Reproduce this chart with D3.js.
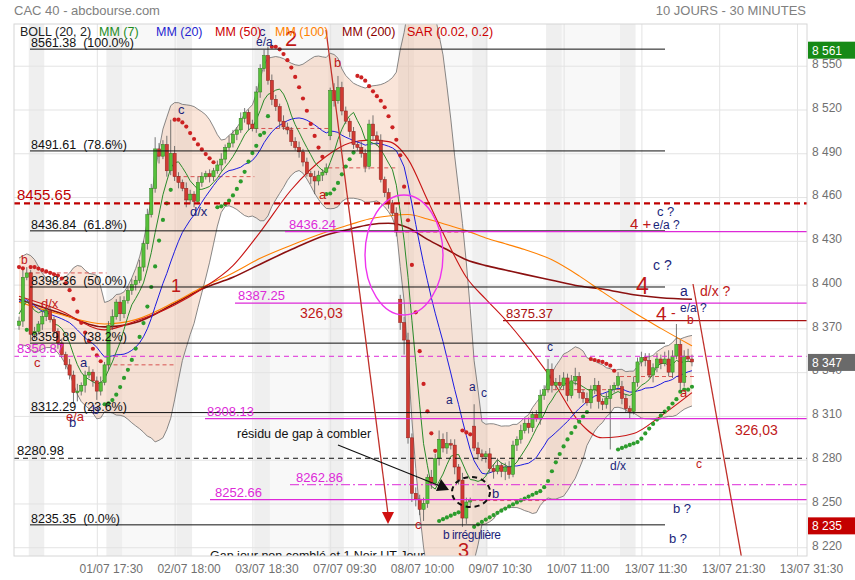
<!DOCTYPE html>
<html>
<head>
<meta charset="utf-8">
<script src="https://cdn.jsdelivr.net/npm/d3@7"></script>
<style>
body { margin: 0; background: #fff; }
svg { display: block; font-family: "Liberation Sans", Arial, sans-serif; }
</style>
</head>
<body>
<svg id="chart" width="855" height="580"></svg>
<script>
// closes before the window, only needed to seed MM(7), MM(20) and the bands
var priorCloses = [8392, 8398, 8405, 8410, 8415, 8412, 8404, 8396, 8388, 8380,
                   8374, 8370, 8366, 8372, 8380, 8386, 8392, 8384, 8370];

// 30 minute closes
var closes = [
  8375, 8405, 8408, 8366, 8368, 8373, 8378, 8382, 8376, 8368,
  8360, 8352, 8345, 8338, 8326, 8327, 8331, 8338, 8340, 8334,
  8327, 8333, 8345, 8372, 8378, 8388, 8380, 8389, 8396, 8400,
  8403, 8412, 8428, 8448, 8466, 8493, 8488, 8496, 8478, 8490,
  8474, 8470, 8466, 8458, 8462, 8457, 8470, 8474, 8476, 8474,
  8478, 8482, 8486, 8494, 8497, 8503, 8506, 8514, 8518, 8510,
  8507, 8532, 8548, 8557, 8540, 8527, 8522, 8512, 8508, 8506,
  8498, 8494, 8491, 8484, 8476, 8474, 8471, 8475, 8477, 8480,
  8533, 8526, 8535, 8519, 8512, 8505, 8496, 8494, 8490, 8481,
  8510, 8502, 8499, 8472, 8463, 8456, 8449, 8436, 8374, 8362,
  8295, 8257, 8253, 8246, 8250, 8268, 8264, 8281, 8294, 8288,
  8291, 8290, 8275, 8266, 8240, 8251, 8252, 8288, 8284, 8282,
  8284, 8274, 8272, 8276, 8272, 8275, 8270, 8290, 8294, 8300,
  8305, 8302, 8311, 8308, 8324, 8328, 8342, 8331, 8333, 8331,
  8336, 8324, 8334, 8337, 8326, 8322, 8319, 8328, 8331, 8320,
  8318, 8322, 8328, 8331, 8337, 8322, 8315, 8313, 8333, 8347,
  8350, 8348, 8338, 8343, 8349, 8346, 8349, 8340, 8351, 8359,
  8333, 8351, 8349, 8347
];
var firstOpen = 8372;
// opening gaps [bar, open]
var gapOpens = [[80, 8502], [98, 8390], [117, 8303], [155, 8330]];

// wick lengths above / below the body, in points
var upWick = [
  3, 6, 4, 2, 3, 2, 4, 2, 3, 2,   2, 3, 2, 4, 3, 5, 2, 3, 4, 2,
  3, 4, 2, 3, 5, 2, 4, 3, 2, 4,   3, 5, 2, 4, 3, 8, 4, 3, 6, 23,
  5, 3, 2, 4, 3, 2, 4, 3, 2, 3,   2, 3, 4, 2, 5, 3, 2, 4, 3, 2,
  3, 4, 3, 4, 6, 4, 3, 2, 4, 3,   2, 3, 4, 2, 3, 2, 4, 3, 2, 3,
  2, 5, 8, 4, 3, 2, 3, 2, 4, 3,   3, 6, 3, 4, 2, 3, 2, 4, 3, 4,
  5, 3, 4, 3, 4, 2, 5, 3, 6, 4,   8, 3, 4, 2, 5, 3, 2, 15, 4, 3,
  2, 4, 3, 5, 2, 3, 4, 3, 2, 4,   3, 4, 2, 3, 4, 3, 7, 4, 3, 5,
  4, 3, 4, 6, 3, 2, 4, 3, 5, 3,   2, 4, 3, 2, 3, 4, 3, 2, 4, 3,
  4, 3, 5, 3, 4, 3, 5, 6, 4, 14,  3, 4, 5, 3
];
var downWick = [
  3, 4, 2, 5, 3, 2, 4, 3, 2, 3,   4, 2, 3, 3, 8, 6, 3, 5, 2, 4,
  6, 3, 2, 4, 3, 2, 5, 3, 2, 3,   4, 2, 3, 4, 2, 3, 5, 2, 4, 3,
  3, 4, 2, 5, 3, 4, 2, 3, 2, 4,   3, 2, 4, 3, 2, 3, 4, 2, 3, 4,
  2, 3, 4, 2, 3, 4, 3, 5, 2, 3,   3, 2, 4, 3, 2, 5, 9, 3, 4, 2,
  3, 4, 2, 3, 2, 4, 3, 2, 3, 4,   2, 3, 4, 2, 3, 4, 2, 3, 5, 10,
  4, 6, 5, 4, 8, 3, 4, 2, 5, 3,   4, 3, 5, 3, 6, 4, 3, 2, 4, 3,
  4, 3, 5, 2, 4, 6, 3, 2, 4, 3,   2, 4, 3, 2, 4, 3, 2, 5, 3, 2,
  3, 4, 2, 3, 4, 3, 2, 4, 3, 5,   4, 3, 35, 2, 3, 4, 3, 5, 2, 3,
  3, 4, 2, 5, 3, 4, 2, 3, 4, 2,   5, 3, 2, 3
];

// first bar of each session
var dayStarts = [3, 23, 41, 61, 80, 98, 117, 136, 155];
var shadedDays = [1, 3, 5, 7];

// long moving averages, read at these bars
var maIdx = [0, 10, 22, 30, 40, 47, 55, 62, 70, 79, 85, 90, 95, 100, 105, 110, 115, 120, 125, 130, 137, 144, 150, 158, 165, 173];
var mm50  = [8392, 8383, 8369, 8375, 8386, 8397, 8413, 8436, 8465, 8488, 8497, 8499, 8498, 8486, 8458, 8430, 8405, 8390, 8376, 8360, 8335, 8306, 8295, 8298, 8310, 8326];
var mm100 = [8388, 8380, 8373, 8376, 8388, 8398, 8408, 8418, 8427, 8436, 8441, 8445, 8447, 8448, 8445, 8441, 8437, 8432, 8428, 8424, 8417, 8406, 8395, 8381, 8370, 8358];
var mm200 = [8390, 8381, 8371, 8374, 8387, 8397, 8405, 8414, 8424, 8434, 8438, 8441, 8442, 8439, 8431, 8424, 8417, 8413, 8410, 8407, 8403, 8399, 8397, 8393, 8391, 8390];

var xTickIdx = [20, 40, 60, 80, 100, 120, 140, 160, 180, 200];
var xLabels = ["01/07 17:30", "02/07 18:00", "03/07 18:30", "07/07 09:30", "08/07 10:00",
               "09/07 10:30", "10/07 11:00", "13/07 11:30", "13/07 21:30", "13/07 31:30"];
var yTicks = [8220, 8250, 8280, 8310, 8340, 8370, 8400, 8430, 8460, 8490, 8520, 8550];

var fibLevels = [8561.38, 8491.61, 8436.84, 8398.36, 8359.89, 8312.29, 8235.35];
var fibPcts = ["100.0%", "78.6%", "61.8%", "50.0%", "38.2%", "23.6%", "0.0%"];

var levelValues = [8455.65, 8436.24, 8387.25, 8375.37, 8350.87, 8308.13, 8280.98, 8262.86, 8252.66];
var levelLabels = ["8455.65", "8436.24", "8387.25", "8375.37", "8350.87", "8308.13", "8280.98", "8262.86", "8252.66"];

var badgeValues = [8561, 8347, 8235];

// ---------------------------------------------------------------------------

var svg = d3.select("#chart");
var L = 14, T = 24, R = 807, B = 556;
var x = d3.scaleLinear().domain([0, 200]).range([19, 797]);
var y = d3.scaleLinear().domain([8214.0, 8578.6]).range([B, T]);
var fmt = function (v) { return d3.format(",")(v).replace(",", " "); };

var N = closes.length;
var opens = closes.map(function (c, i) { return i === 0 ? firstOpen : closes[i - 1]; });
gapOpens.forEach(function (g) { opens[g[0]] = g[1]; });
var highs = closes.map(function (c, i) { return Math.max(c, opens[i]) + upWick[i]; });
var lows = closes.map(function (c, i) { return Math.min(c, opens[i]) - downWick[i]; });

// indicators
var all = priorCloses.concat(closes), H = priorCloses.length;
var boll = closes.map(function (c, i) {
    var w = all.slice(i + H - 19, i + H + 1);
    var m = d3.mean(w);
    var sd = Math.sqrt(d3.mean(w, function (v) { return (v - m) * (v - m); }));
    return { i: i, m: m, up: m + 2 * sd, lo: m - 2 * sd };
});
var mm7 = closes.map(function (c, i) { return { i: i, v: d3.mean(all.slice(i + H - 6, i + H + 1)) }; });

// parabolic SAR (0.02, 0.2), starting in a down move
function psar(h, l, step, max) {
    var out = [], up = false, af = step, ep = l[0], sar = d3.max(h.slice(0, 3));
    out.push({ i: 0, v: sar, up: up });
    for (var i = 1; i < h.length; i++) {
        sar = sar + af * (ep - sar);
        if (up) {
            sar = Math.min(sar, l[i - 1], l[Math.max(i - 2, 0)]);
            if (l[i] < sar) { up = false; sar = ep; ep = l[i]; af = step; }
            else if (h[i] > ep) { ep = h[i]; af = Math.min(af + step, max); }
        } else {
            sar = Math.max(sar, h[i - 1], h[Math.max(i - 2, 0)]);
            if (h[i] > sar) { up = true; sar = ep; ep = h[i]; af = step; }
            else if (l[i] < ep) { ep = l[i]; af = Math.min(af + step, max); }
        }
        out.push({ i: i, v: sar, up: up });
    }
    return out;
}
var sar = psar(highs, lows, 0.02, 0.2);

// header
svg.append("text").attr("x", 14).attr("y", 15).attr("font-size", 13).attr("fill", "#808080").text("CAC 40 - abcbourse.com");
svg.append("text").attr("x", 806).attr("y", 15).attr("font-size", 13).attr("fill", "#808080")
    .attr("text-anchor", "end").text("10 JOURS - 30 MINUTES");

svg.append("defs").append("clipPath").attr("id", "plot")
    .append("rect").attr("x", L).attr("y", T).attr("width", R - L).attr("height", B - T);
var g = svg.append("g").attr("clip-path", "url(#plot)");

// session shading
var ends = dayStarts.slice(1).concat([N]);
g.selectAll(".day").data(shadedDays).enter().append("rect")
    .attr("x", function (d) { return x(dayStarts[d] - 0.5); })
    .attr("width", function (d) { return x(ends[d] - 0.5) - x(dayStarts[d] - 0.5); })
    .attr("y", T).attr("height", B - T).attr("fill", "#f8f8f8");
g.selectAll(".open").data(dayStarts).enter().append("rect")
    .attr("x", function (d) { return x(d - 0.5); })
    .attr("width", x(4) - x(0))
    .attr("y", T).attr("height", B - T).attr("fill", "#efefef");

// grid
g.append("g").attr("transform", "translate(" + L + ",0)")
    .call(d3.axisLeft(y).tickValues(yTicks).tickSize(-(R - L)).tickFormat(""))
    .call(function (a) { a.select(".domain").remove(); a.selectAll("line").attr("stroke", "#e3e3e3"); });
g.append("g").attr("transform", "translate(0," + B + ")")
    .call(d3.axisBottom(x).tickValues(xTickIdx).tickSize(-(B - T)).tickFormat(""))
    .call(function (a) { a.select(".domain").remove(); a.selectAll("line").attr("stroke", "#e3e3e3"); });

// Bollinger
g.append("path").datum(boll)
    .attr("d", d3.area().x(function (d) { return x(d.i); }).y0(function (d) { return y(d.lo); }).y1(function (d) { return y(d.up); }))
    .attr("fill", "rgba(240,170,130,0.3)");
["up", "lo"].forEach(function (k) {
    g.append("path").datum(boll)
        .attr("d", d3.line().x(function (d) { return x(d.i); }).y(function (d) { return y(d[k]); }))
        .attr("fill", "none").attr("stroke", "#6b6b6b").attr("stroke-width", 0.8);
});

// previous close of each session
g.selectAll(".prev").data(dayStarts).enter().append("line")
    .attr("x1", function (d) { return x(d - 0.5); })
    .attr("x2", function (d, k) { return x(ends[k] - 0.5); })
    .attr("y1", function (d) { return y(closes[d - 1]); })
    .attr("y2", function (d) { return y(closes[d - 1]); })
    .attr("stroke", "#d03030").attr("stroke-width", 0.8).attr("stroke-dasharray", "4,3");

// moving averages
var maLine = d3.line().x(function (d) { return x(d[0]); }).y(function (d) { return y(d[1]); }).curve(d3.curveMonotoneX);
[[mm200, "#8b1010", 1.6], [mm100, "#ff8000", 1.1], [mm50, "#c81414", 1.1]].forEach(function (s) {
    g.append("path").datum(maIdx.map(function (k, j) { return [k, s[0][j]]; }))
        .attr("d", maLine).attr("fill", "none").attr("stroke", s[1]).attr("stroke-width", s[2]);
});
g.append("path").datum(boll)
    .attr("d", d3.line().x(function (d) { return x(d.i); }).y(function (d) { return y(d.m); }))
    .attr("fill", "none").attr("stroke", "#1c1ce0").attr("stroke-width", 1);
g.append("path").datum(mm7)
    .attr("d", d3.line().x(function (d) { return x(d.i); }).y(function (d) { return y(d.v); }))
    .attr("fill", "none").attr("stroke", "#2a8a2a").attr("stroke-width", 1);

// candles
var bars = g.selectAll(".bar").data(closes).enter().append("g");
bars.append("line")
    .attr("x1", function (d, i) { return x(i); }).attr("x2", function (d, i) { return x(i); })
    .attr("y1", function (d, i) { return y(highs[i]); }).attr("y2", function (d, i) { return y(lows[i]); })
    .attr("stroke", "#555").attr("stroke-width", 0.8);
bars.append("rect")
    .attr("x", function (d, i) { return x(i) - 1.6; }).attr("width", 3.2)
    .attr("y", function (d, i) { return y(Math.max(d, opens[i])); })
    .attr("height", function (d, i) { return Math.max(1, Math.abs(y(d) - y(opens[i]))); })
    .attr("fill", function (d, i) { return d >= opens[i] ? "#56c03a" : "#d03a32"; })
    .attr("stroke", function (d, i) { return d >= opens[i] ? "#2f7d1f" : "#8e1f1a"; })
    .attr("stroke-width", 0.5);

// SAR dots
g.selectAll(".sar").data(sar).enter().append("circle")
    .attr("cx", function (d) { return x(d.i); }).attr("cy", function (d) { return y(d.v); })
    .attr("r", 2.1).attr("fill", function (d) { return d.up ? "#2c9c2c" : "#cc2222"; });

// Fibonacci retracements
var fibX0 = 30, fibX1 = 665;
g.selectAll(".fib").data(fibLevels).enter().append("line")
    .attr("x1", fibX0).attr("x2", fibX1)
    .attr("y1", function (d) { return y(d); }).attr("y2", function (d) { return y(d); })
    .attr("stroke", "#111").attr("stroke-width", 1);
g.selectAll(".fibt").data(fibLevels).enter().append("text")
    .attr("x", fibX0 + 1).attr("y", function (d) { return y(d) - 2; })
    .attr("font-size", 12.5).attr("fill", "#111")
    .text(function (d, i) { return d.toFixed(2) + "\u00a0\u00a0(" + fibPcts[i] + ")"; });

// other levels
var magenta = "#dd2ad8";
var levelStyle = [
    { x0: L, col: "#c00000", w: 2.2, dash: "6,4", tx: 17, fs: 15 },
    { x0: 285, col: magenta, w: 1.2, dash: null, tx: 289, fs: 13 },
    { x0: 235, col: magenta, w: 1.2, dash: null, tx: 238, fs: 13 },
    { x0: 503, col: "#a81010", w: 1.2, dash: null, tx: 506, fs: 13 },
    { x0: L, col: magenta, w: 1, dash: "5,4", tx: 17, fs: 13 },
    { x0: 205, col: magenta, w: 1.2, dash: null, tx: 207, fs: 13 },
    { x0: L, col: "#111", w: 1, dash: "5,4", tx: 17, fs: 13 },
    { x0: 290, col: magenta, w: 1, dash: "9,3,2,3", tx: 296, fs: 13 },
    { x0: 210, col: magenta, w: 1.2, dash: null, tx: 215, fs: 13 }
];
levelValues.forEach(function (v, i) {
    var s = levelStyle[i];
    g.append("line").attr("x1", s.x0).attr("x2", R).attr("y1", y(v)).attr("y2", y(v))
        .attr("stroke", s.col).attr("stroke-width", s.w).attr("stroke-dasharray", s.dash);
    g.append("text").attr("x", s.tx).attr("y", y(v) - 3).attr("font-size", s.fs)
        .attr("fill", s.col).text(levelLabels[i]);
});

// trend lines, arrows and circles
var red = "#c0302a";
g.append("line").attr("x1", 326).attr("y1", 30).attr("x2", 388).attr("y2", 514).attr("stroke", red).attr("stroke-width", 1.3);
g.append("path").attr("d", "M382,512 L394,512 L388,524 Z").attr("fill", "#d01010");
g.append("line").attr("x1", 693).attr("y1", 284).attr("x2", 742).attr("y2", 560).attr("stroke", red).attr("stroke-width", 1.3);
g.append("ellipse").attr("cx", 404).attr("cy", 255).attr("rx", 39).attr("ry", 60)
    .attr("fill", "none").attr("stroke", "#ee33ee").attr("stroke-width", 1.4);
g.append("ellipse").attr("cx", 471).attr("cy", 492).attr("rx", 19).attr("ry", 15)
    .attr("fill", "none").attr("stroke", "#111").attr("stroke-width", 2).attr("stroke-dasharray", "5,4");
g.append("line").attr("x1", 338).attr("y1", 445).attr("x2", 440).attr("y2", 486).attr("stroke", "#111").attr("stroke-width", 1.2);
g.append("path").attr("d", "M449,490 L436,491 L441,479 Z").attr("fill", "#111");

// wave labels
var navy = "#1b1f7a", dred = "#c01818";
var notes = [
    ["b", 21, 264, dred, 12], ["d/x", 41, 308, dred, 13], ["c", 34, 367, dred, 13], ["a", 80, 367, navy, 13],
    ["e/a", 66, 421, dred, 13], ["b", 69, 427, navy, 13], ["b", 92, 414, navy, 13],
    ["c", 178, 114, navy, 13], ["d/x", 190, 216, navy, 13], ["1", 171, 292, dred, 18],
    ["c", 259, 36, navy, 13], ["e/a", 256, 46, navy, 12], ["2", 285, 46, dred, 22],
    ["b", 334, 67, dred, 13], ["a", 319, 199, dred, 13], ["326,03", 300, 318, dred, 14],
    ["a", 446, 404, navy, 12], ["a", 469, 391, navy, 12], ["c", 481, 397, navy, 12], ["c", 547, 351, navy, 12],
    ["b", 492, 498, navy, 13], ["c", 415, 529, dred, 13], ["3", 458, 557, dred, 20],
    ["résidu de gap à combler", 237, 438, "#111", 12.5],
    ["Gap jour non comblé et 1 Noir UT Jour", 210, 560, "#111", 12.5],
    ["c ?", 657, 216, navy, 13], ["4 +", 630, 229, dred, 15], ["e/a ?", 653, 229, navy, 12],
    ["c ?", 653, 270, navy, 14], ["4", 636, 294, dred, 23], ["a", 680, 296, navy, 14], ["d/x ?", 700, 296, dred, 14],
    ["4", 656, 320, dred, 19], ["-", 671, 318, dred, 14], ["e/a ?", 680, 312, navy, 12], ["b", 687, 324, dred, 12],
    ["a", 680, 397, dred, 13], ["326,03", 735, 435, dred, 14], ["c", 696, 468, dred, 12],
    ["d/x", 610, 470, navy, 12], ["b ?", 673, 513, navy, 13], ["b ?", 669, 543, navy, 13]
];
g.selectAll(".note").data(notes).enter().append("text")
    .attr("x", function (d) { return d[1]; }).attr("y", function (d) { return d[2]; })
    .attr("fill", function (d) { return d[3]; }).attr("font-size", function (d) { return d[4]; })
    .text(function (d) { return d[0]; });
g.append("text").attr("x", 443).attr("y", 539).attr("fill", navy).attr("font-size", 12)
    .attr("font-family", "'Liberation Sans Narrow', 'Liberation Sans', Arial").attr("textLength", 58)
    .text("b irrégulière");

// legend
var legend = [["BOLL (20, 2)", 20, "#222"], ["MM (7)", 99, "#1e8c1e"], ["MM (20)", 156, "#1f1fd0"],
              ["MM (50)", 215, "#cc0000"], ["MM (100)", 275, "#ff8000"], ["MM (200)", 342, "#8b0000"],
              ["SAR (0.02, 0.2)", 407, "#cc0000"]];
svg.selectAll(".leg").data(legend).enter().append("text")
    .attr("x", function (d) { return d[1]; }).attr("y", 36).attr("font-size", 12.5)
    .attr("fill", function (d) { return d[2]; }).text(function (d) { return d[0]; });

// frame and axes
svg.append("rect").attr("x", L).attr("y", T).attr("width", R - L).attr("height", B - T)
    .attr("fill", "none").attr("stroke", "#d6d6d6");
svg.append("g").attr("transform", "translate(" + R + ",0)")
    .call(d3.axisRight(y).tickValues(yTicks).tickSize(0).tickPadding(5).tickFormat(fmt))
    .call(function (a) {
        a.select(".domain").remove();
        a.selectAll("text").attr("dy", "0.15em").attr("font-size", 12).attr("fill", "#707070")
            .attr("font-family", "'Liberation Sans', Arial");
    });
svg.append("g").attr("transform", "translate(0," + B + ")")
    .call(d3.axisBottom(x).tickValues(xTickIdx).tickSize(0).tickPadding(8)
        .tickFormat(function (d, i) { return xLabels[i]; }))
    .call(function (a) {
        a.select(".domain").remove();
        a.selectAll("text").attr("dx", 14).attr("font-size", 12).attr("fill", "#707070")
            .attr("font-family", "'Liberation Sans Narrow', 'Liberation Sans', Arial");
    });

// last / high / low badges
var badgeCol = ["#168a16", "#6a6a6a", "#c40000"];
badgeValues.forEach(function (v, i) {
    svg.append("rect").attr("x", 808).attr("y", y(v) - 8).attr("width", 47).attr("height", 17).attr("fill", badgeCol[i]);
    svg.append("text").attr("x", 812).attr("y", y(v) + 5).attr("font-size", 12).attr("fill", "#fff").text(fmt(v));
});
</script>
</body>
</html>
